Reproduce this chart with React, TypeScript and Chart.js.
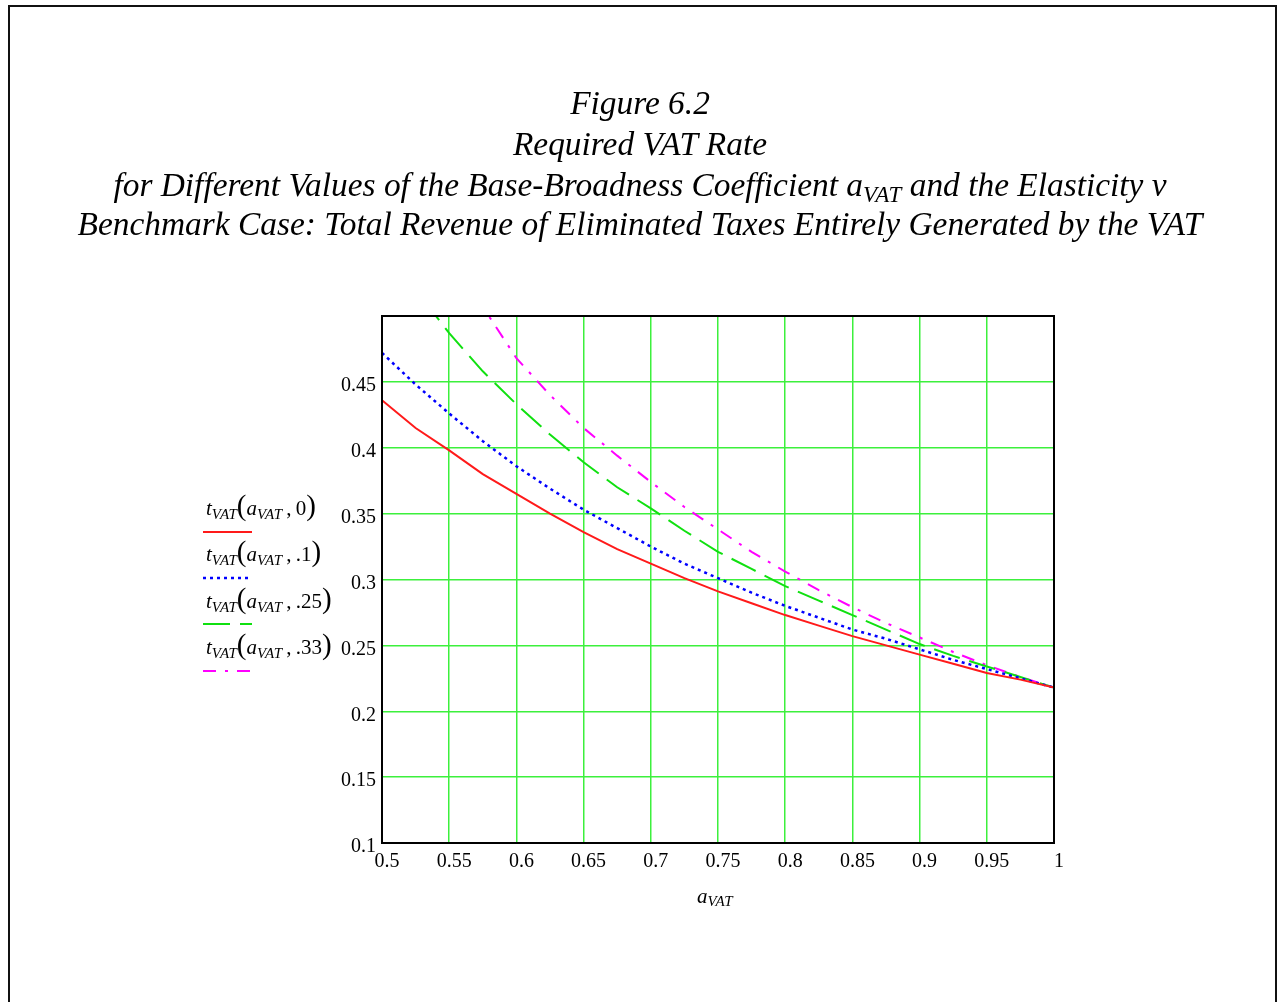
import React, { useEffect, useRef } from "react";
import { Chart, registerables } from "chart.js";

Chart.register(...registerables);

// ---- data ----
const aVat = [0.5, 0.525, 0.55, 0.575, 0.6, 0.625, 0.65, 0.675, 0.7, 0.725, 0.75, 0.775, 0.8, 0.825, 0.85, 0.875, 0.9, 0.925, 0.95, 0.975, 1];
const tV0 = [0.436, 0.415, 0.398, 0.380, 0.365, 0.350, 0.336, 0.323, 0.312, 0.301, 0.291, 0.282, 0.273, 0.265, 0.257, 0.250, 0.243, 0.236, 0.229, 0.224, 0.218];
const tV10 = [0.472, 0.448, 0.426, 0.405, 0.386, 0.369, 0.353, 0.339, 0.325, 0.312, 0.301, 0.290, 0.280, 0.271, 0.262, 0.255, 0.247, 0.239, 0.232, 0.225, 0.218];
const tV25 = [0.560, 0.520, 0.487, 0.458, 0.433, 0.410, 0.389, 0.370, 0.354, 0.337, 0.321, 0.308, 0.295, 0.284, 0.273, 0.262, 0.251, 0.242, 0.234, 0.226, 0.218];
const tV33 = [0.620, 0.580, 0.545, 0.507, 0.468, 0.440, 0.415, 0.394, 0.374, 0.355, 0.338, 0.321, 0.306, 0.292, 0.279, 0.267, 0.256, 0.245, 0.235, 0.226, 0.218];
const seriesLabels = ["v = 0", "v = .1", "v = .25", "v = .33"];
const legendArgs = ["0", ".1", ".25", ".33"];
const xTickMin = 0.5;
const xTickMax = 1;
const xTickStep = 0.05;
const yTickMin = 0.1;
const yTickMax = 0.5;
const yTickStep = 0.05;

const SERIF = "'Liberation Serif', 'Times New Roman', serif";
const GRID = "#3cf03c";

const legendY = [532, 578, 624, 671];

export default function App() {
  const ref = useRef<HTMLCanvasElement>(null);

  useEffect(() => {
    if (!ref.current) return;
    const series = [tV0, tV10, tV25, tV33];
    const styles = [
      { color: "#ff1a1a", dash: [] as number[], width: 2 },
      { color: "#0000ff", dash: [3, 4], width: 2.5 },
      { color: "#10e010", dash: [27, 10], width: 2 },
      { color: "#ff00ff", dash: [13, 9, 3, 9], width: 2 },
    ];
    const framePlugin = {
      id: "frame",
      afterDatasetsDraw(chart: any) {
        const { ctx, chartArea } = chart;
        const { left, top, right, bottom } = chartArea;
        ctx.save();
        ctx.strokeStyle = "#000";
        ctx.lineWidth = 2;
        ctx.setLineDash([]);
        ctx.strokeRect(left, top, right - left, bottom - top);
        ctx.restore();
      },
      afterDraw(chart: any) {
        const { ctx } = chart;
        ctx.save();
        chart.data.datasets.forEach((ds: any, i: number) => {
          ctx.beginPath();
          ctx.strokeStyle = ds.borderColor;
          ctx.lineWidth = ds.borderWidth;
          ctx.setLineDash(ds.borderDash || []);
          ctx.moveTo(203, legendY[i]);
          ctx.lineTo(252, legendY[i]);
          ctx.stroke();
        });
        ctx.restore();
      },
    };
    const chart = new Chart(ref.current, {
      type: "line",
      data: {
        datasets: series.map((s, i) => ({
          label: seriesLabels[i],
          data: s.map((v, j) => ({ x: aVat[j], y: v })),
          borderColor: styles[i].color,
          borderWidth: styles[i].width,
          borderDash: styles[i].dash,
          pointRadius: 0,
          fill: false,
          tension: 0,
        })),
      },
      options: {
        animation: false,
        responsive: false,
        devicePixelRatio: 1,
        layout: { padding: { left: 0, top: 316, right: 224, bottom: 0 } },
        plugins: { legend: { display: false }, tooltip: { enabled: false }, title: { display: false } },
        scales: {
          x: {
            type: "linear",
            min: xTickMin,
            max: xTickMax,
            afterFit: (s: any) => { s.height = 159; },
            ticks: {
              stepSize: xTickStep,
              padding: 7,
              labelOffset: 5,
              color: "#000",
              font: { family: SERIF, size: 20 },
              maxRotation: 0,
              autoSkip: false,
              callback: (v: any) => String(Number(Number(v).toFixed(2))),
            },
            grid: { color: GRID, lineWidth: 1.5, drawTicks: false },
            border: { display: true, color: "#000", width: 2 },
          },
          y: {
            type: "linear",
            min: yTickMin,
            max: yTickMax,
            afterFit: (s: any) => { s.width = 382; },
            ticks: {
              stepSize: yTickStep,
              padding: 6,
              labelOffset: 4,
              color: "#000",
              font: { family: SERIF, size: 20 },
              autoSkip: false,
              callback: (v: any) => {
                const n = Number(Number(v).toFixed(2));
                return n >= 0.5 ? "" : String(n);
              },
            },
            grid: { color: GRID, lineWidth: 1.5, drawTicks: false },
            border: { display: true, color: "#000", width: 2 },
          },
        },
      },
      plugins: [framePlugin],
    });
    return () => chart.destroy();
  }, []);

  return (
    <div style={{ position: "fixed", left: 0, top: 0, width: 1278, height: 1002, background: "#fff" }}>
      <div
        style={{
          position: "absolute",
          left: 8,
          top: 5,
          width: 1265,
          height: 1010,
          borderLeft: "2px solid #111",
          borderTop: "2px solid #111",
          borderRight: "2px solid #111",
        }}
      />
      <canvas ref={ref} width={1278} height={1002} style={{ position: "absolute", left: 0, top: 0 }} />
      <svg width={1278} height={1002} style={{ position: "absolute", left: 0, top: 0, pointerEvents: "none" }}>
        <g fontFamily={SERIF} fontStyle="italic" fontSize={33.4} textAnchor="middle" fill="#000">
          <text x={640} y={114}>Figure 6.2</text>
          <text x={640} y={155}>Required VAT Rate</text>
          <text x={640} y={196}>
            for Different Values of the Base-Broadness Coefficient a
            <tspan fontSize={23} dy={6}>VAT</tspan>
            <tspan dy={-6}> and the Elasticity v</tspan>
          </text>
          <text x={640} y={235}>Benchmark Case: Total Revenue of Eliminated Taxes Entirely Generated by the VAT</text>
        </g>
        <g fontFamily={SERIF} fontSize={21} fill="#000">
          {legendArgs.map((a, i) => (
            <text key={i} x={206} y={515 + i * 46.3}>
              <tspan fontStyle="italic">t</tspan>
              <tspan fontStyle="italic" fontSize={15} dy={4}>VAT</tspan>
              <tspan fontSize={29} dy={-4}>(</tspan>
              <tspan fontStyle="italic">a</tspan>
              <tspan fontStyle="italic" fontSize={15} dy={4}>VAT</tspan>
              <tspan dy={-4}>{"\u2009,\u2009" + a}</tspan>
              <tspan fontSize={29}>)</tspan>
            </text>
          ))}
          <text x={697} y={903}>
            <tspan fontStyle="italic">a</tspan>
            <tspan fontStyle="italic" fontSize={15} dy={3}>VAT</tspan>
          </text>
        </g>
      </svg>
    </div>
  );
}
